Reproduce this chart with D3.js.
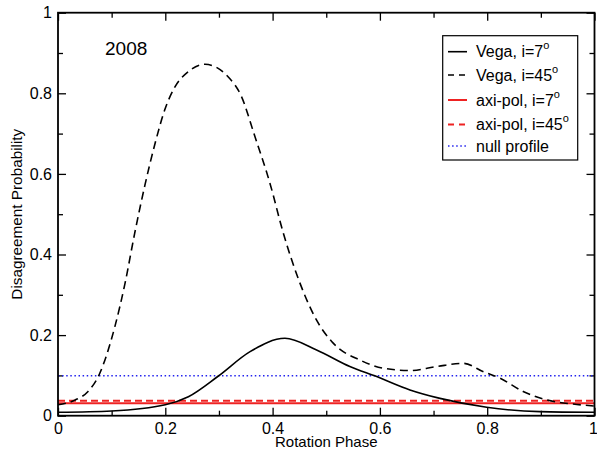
<!DOCTYPE html>
<html>
<head>
<meta charset="utf-8">
<script src="https://cdn.jsdelivr.net/npm/d3@7"></script>
<style>
  html, body { margin: 0; padding: 0; background: #fff; }
  svg { display: block; }
  text { font-family: "Liberation Sans", Arial, Helvetica, sans-serif; fill: #000; }
</style>
</head>
<body>
<svg id="chart" width="597" height="451"></svg>
<script>
// ---------------- data ----------------
const vega45Phase = [0, 0.032, 0.056, 0.075, 0.106, 0.125, 0.143, 0.162, 0.181, 0.199, 0.218, 0.243, 0.274, 0.317, 0.342, 0.366, 0.395, 0.42, 0.451, 0.482, 0.513, 0.563, 0.606, 0.656, 0.706, 0.756, 0.793, 0.824, 0.867, 0.911, 0.96, 1.0];
const vega45Value = [0.027, 0.039, 0.060, 0.097, 0.221, 0.329, 0.453, 0.572, 0.676, 0.759, 0.816, 0.854, 0.872, 0.841, 0.792, 0.697, 0.577, 0.453, 0.329, 0.237, 0.180, 0.138, 0.118, 0.112, 0.122, 0.130, 0.109, 0.093, 0.060, 0.039, 0.029, 0.024];

const vega7Phase = [0, 0.1, 0.2, 0.243, 0.299, 0.358, 0.423, 0.482, 0.544, 0.594, 0.656, 0.712, 0.799, 0.898, 1.0];
const vega7Value = [0.0084, 0.0117, 0.027, 0.047, 0.0985, 0.159, 0.192, 0.163, 0.122, 0.097, 0.064, 0.043, 0.021, 0.010, 0.0084];

const axiPol7Value = 0.031;
const axiPol45Value = 0.037;
const nullProfileValue = 0.099;

const xMajorTicks = [0, 0.2, 0.4, 0.6, 0.8, 1];
const xMinorTicks = [0.1, 0.3, 0.5, 0.7, 0.9];
const yMajorTicks = [0, 0.2, 0.4, 0.6, 0.8, 1];
const yMinorTicks = [0.1, 0.3, 0.5, 0.7, 0.9];

const legendLabels = ["Vega, i=7", "Vega, i=45", "axi-pol, i=7", "axi-pol, i=45", "null profile"];
const legendSup = ["o", "o", "o", "o", ""];
const yearLabel = "2008";
const xTitle = "Rotation Phase";
const yTitle = "Disagreement Probability";

// ---------------- layout ----------------
const svg = d3.select("#chart");
const pL = 58, pR = 594.5, pT = 12.7, pB = 415.7;
const x = d3.scaleLinear().domain([0, 1]).range([pL, pR]);
const y = d3.scaleLinear().domain([0, 1]).range([pB, pT]);

const fmt = d => d === 0 ? "0" : d === 1 ? "1" : d3.format(".1f")(d);

// axes: ticks inside, mirrored
function styleAxis(g) {
  g.select(".domain").remove();
  g.selectAll(".tick line").attr("stroke", "#000").attr("stroke-width", 1.3);
  g.selectAll(".tick text").attr("font-size", 16).attr("fill", "#000")
   .attr("font-family", "'Liberation Sans', Arial, sans-serif");
}
const xAxisG = svg.append("g").attr("transform", `translate(0,${pB})`)
  .call(d3.axisBottom(x).tickValues(xMajorTicks).tickSize(-8).tickPadding(7).tickFormat(fmt)).call(styleAxis);
// keep the last label inside the window
xAxisG.selectAll(".tick text").filter(d => d === 1).attr("text-anchor", "end").attr("dx", 3);
svg.append("g").attr("transform", `translate(0,${pB})`)
  .call(d3.axisBottom(x).tickValues(xMinorTicks).tickSize(-5).tickFormat("")).call(styleAxis);
svg.append("g").attr("transform", `translate(0,${pT})`)
  .call(d3.axisTop(x).tickValues(xMajorTicks).tickSize(-8).tickFormat("")).call(styleAxis);
svg.append("g").attr("transform", `translate(0,${pT})`)
  .call(d3.axisTop(x).tickValues(xMinorTicks).tickSize(-5).tickFormat("")).call(styleAxis);
svg.append("g").attr("transform", `translate(${pL},0)`)
  .call(d3.axisLeft(y).tickValues(yMajorTicks).tickSize(-8).tickPadding(6).tickFormat(fmt)).call(styleAxis);
svg.append("g").attr("transform", `translate(${pL},0)`)
  .call(d3.axisLeft(y).tickValues(yMinorTicks).tickSize(-5).tickFormat("")).call(styleAxis);
svg.append("g").attr("transform", `translate(${pR},0)`)
  .call(d3.axisRight(y).tickValues(yMajorTicks).tickSize(-8).tickFormat("")).call(styleAxis);
svg.append("g").attr("transform", `translate(${pR},0)`)
  .call(d3.axisRight(y).tickValues(yMinorTicks).tickSize(-5).tickFormat("")).call(styleAxis);

// series
const line = d3.line().x(d => x(d[0])).y(d => y(d[1])).curve(d3.curveMonotoneX);
svg.append("clipPath").attr("id", "clip").append("rect")
  .attr("x", pL).attr("y", pT).attr("width", pR - pL).attr("height", pB - pT);
const plot = svg.append("g").attr("clip-path", "url(#clip)");

plot.append("path").datum([[0, nullProfileValue], [1, nullProfileValue]])
  .attr("d", line).attr("fill", "none").attr("stroke", "#2222ee").attr("stroke-width", 1.6)
  .attr("stroke-dasharray", "1.5,2.6");
plot.append("path").datum([[0, axiPol7Value], [1, axiPol7Value]])
  .attr("d", line).attr("fill", "none").attr("stroke", "#ee2222").attr("stroke-width", 2);
plot.append("path").datum([[0, axiPol45Value], [1, axiPol45Value]])
  .attr("d", line).attr("fill", "none").attr("stroke", "#ee2222").attr("stroke-width", 2)
  .attr("stroke-dasharray", "7,4");
plot.append("path").datum(vega7Phase.map((p, i) => [p, vega7Value[i]]))
  .attr("d", line).attr("fill", "none").attr("stroke", "#000").attr("stroke-width", 1.6);
plot.append("path").datum(vega45Phase.map((p, i) => [p, vega45Value[i]]))
  .attr("d", line).attr("fill", "none").attr("stroke", "#000").attr("stroke-width", 1.6)
  .attr("stroke-dasharray", "8,5");

// frame
svg.append("rect").attr("x", pL).attr("y", pT).attr("width", pR - pL).attr("height", pB - pT)
  .attr("fill", "none").attr("stroke", "#000").attr("stroke-width", 1.8);

// titles
svg.append("text").attr("x", (pL + pR) / 2).attr("y", 447).attr("text-anchor", "middle")
  .attr("font-size", 15).text(xTitle);
svg.append("text").attr("transform", `translate(22,${(pT + pB) / 2}) rotate(-90)`)
  .attr("text-anchor", "middle").attr("font-size", 15.3).text(yTitle);
svg.append("text").attr("x", 105).attr("y", 55).attr("font-size", 19).text(yearLabel);

// legend
const legStyles = [
  {stroke: "#000", dash: null, w: 1.6},
  {stroke: "#000", dash: "6,5", w: 1.6},
  {stroke: "#ee2222", dash: null, w: 2},
  {stroke: "#ee2222", dash: "6,5", w: 2},
  {stroke: "#2222ee", dash: "1.5,2.6", w: 1.6}
];
const legRowY = [51.7, 75, 100, 124.5, 146];
svg.append("rect").attr("x", 442.7).attr("y", 35.7).attr("width", 135).attr("height", 124.3)
  .attr("fill", "#fff").attr("stroke", "#000").attr("stroke-width", 1.2);
legendLabels.forEach((lab, i) => {
  const ly = legRowY[i];
  svg.append("line").attr("x1", 448).attr("x2", 467).attr("y1", ly).attr("y2", ly)
    .attr("stroke", legStyles[i].stroke).attr("stroke-width", legStyles[i].w)
    .attr("stroke-dasharray", legStyles[i].dash);
  const t = svg.append("text").attr("x", 476).attr("y", ly + 5.5).attr("font-size", 16).text(lab);
  if (legendSup[i]) {
    t.append("tspan").attr("dy", -8).attr("font-size", 11).text(legendSup[i]);
  }
});
</script>
</body>
</html>
